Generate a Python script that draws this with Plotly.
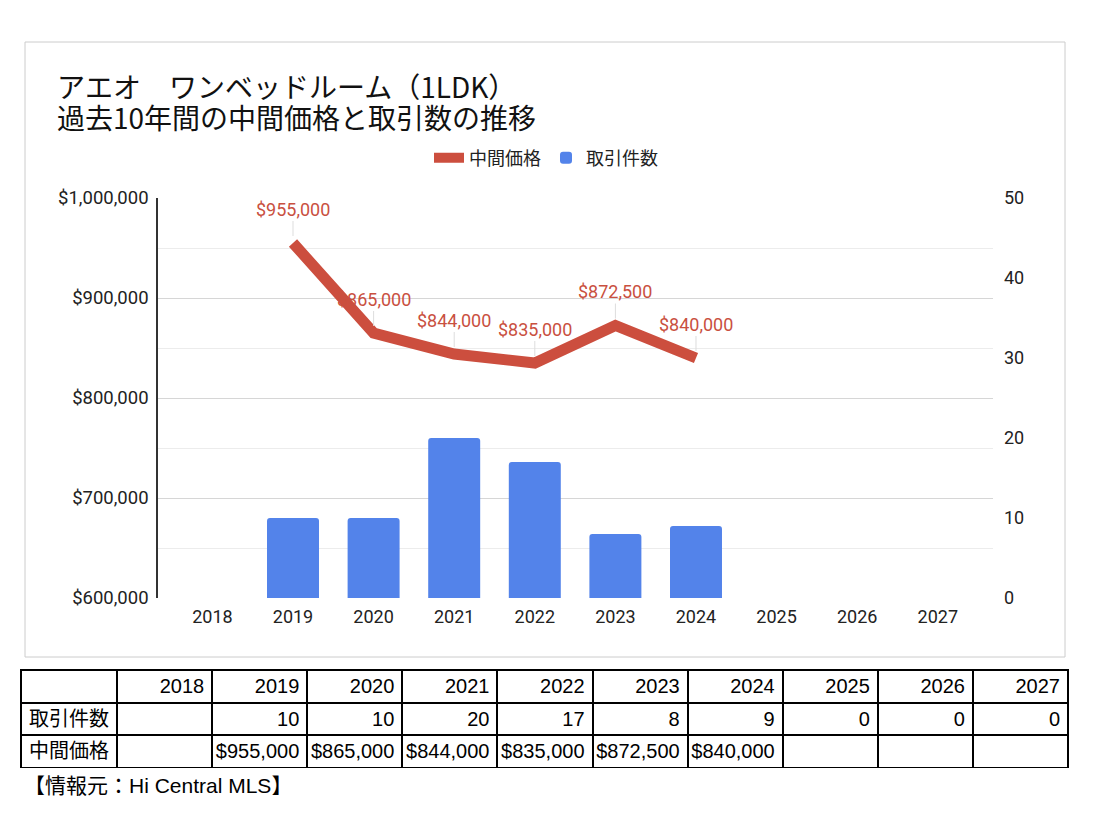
import plotly.graph_objects as go

# ---- data ----
years = ["2018", "2019", "2020", "2021", "2022", "2023", "2024", "2025", "2026", "2027"]
counts = [None, 10, 10, 20, 17, 8, 9, 0, 0, 0]
prices = [None, 955000, 865000, 844000, 835000, 872500, 840000, None, None, None]
price_name = "中間価格"
count_name = "取引件数"
title_line1 = "アエオ　ワンベッドルーム（1LDK）"
title_line2 = "過去10年間の中間価格と取引数の推移"
source_text = "【情報元：Hi Central MLS】"

W, H = 1112, 826
def px(x):
    return x / W
def py(y):
    return 1 - y / H

RED = "#CC4E3E"
RED_TXT = "#C9503F"
BLUE = "#5383EA"
CHART_FONT = "Roboto, 'Noto Sans CJK JP', sans-serif"
TABLE_FONT = "'Liberation Sans', Arial, 'Noto Sans CJK JP', sans-serif"
TITLE_FONT = "'Noto Sans CJK JP', sans-serif"

fig = go.Figure()

fig.add_trace(go.Scatter(
    x=years, y=prices, name=price_name, mode="lines",
    line=dict(color=RED, width=11), yaxis="y3", connectgaps=False,
    hoverinfo="skip",
))
fig.add_trace(go.Bar(
    x=years, y=counts, name=count_name, yaxis="y2",
    marker=dict(color=BLUE, line=dict(width=0), cornerradius=3),
    width=0.645, hoverinfo="skip",
))

# ---- table ----
def fmt_count(c):
    return "" if c is None else str(c)
def fmt_price(p):
    return "" if p is None else f"${p:,}"

cell_cols = [[count_name, price_name]] + [[fmt_count(c), fmt_price(p)] for c, p in zip(counts, prices)]
aligns = ["left"] + ["right"] * len(years)
fig.add_trace(go.Table(
    domain=dict(x=[px(21), px(1068)], y=[py(768), py(670)]),
    columnwidth=[96] + [95] * len(years),
    header=dict(values=[""] + years, align=aligns, height=32.5,
                line=dict(color="black", width=2), fill=dict(color="white"),
                font=dict(family=TABLE_FONT, size=20, color="black")),
    cells=dict(values=cell_cols, align=aligns, height=32.5,
               line=dict(color="black", width=2), fill=dict(color="white"),
               font=dict(family=TABLE_FONT, size=20, color="black")),
))

# data labels (x given as category index)
annotations = []
for i, p in enumerate(prices):
    if p is None:
        continue
    annotations.append(dict(
        x=i, y=p, xref="x", yref="y", text=fmt_price(p),
        showarrow=True, arrowhead=0, arrowwidth=1, arrowcolor="#dddddd",
        ax=0, ay=-34, standoff=7,
        font=dict(family=CHART_FONT, size=18, color=RED_TXT),
    ))

annotations += [
    dict(x=px(55), y=py(86), xref="paper", yref="paper", xanchor="left", yanchor="middle",
         text=title_line1, showarrow=False,
         font=dict(family=TITLE_FONT, size=28, color="#111111")),
    dict(x=px(55), y=py(117), xref="paper", yref="paper", xanchor="left", yanchor="middle",
         text=title_line2, showarrow=False,
         font=dict(family=TITLE_FONT, size=28, color="#111111")),
    dict(x=px(22), y=py(785), xref="paper", yref="paper", xanchor="left", yanchor="middle",
         text=source_text, showarrow=False,
         font=dict(family=TABLE_FONT, size=21, color="black")),
]

fig.update_layout(
    width=W, height=H, autosize=False,
    margin=dict(l=0, r=0, t=0, b=0, pad=0),
    paper_bgcolor="white", plot_bgcolor="white",
    font=dict(family=CHART_FONT, size=18, color="#222222"),
    showlegend=True,
    legend=dict(orientation="h", x=px(546), xanchor="center", y=py(158), yanchor="middle",
                font=dict(family=CHART_FONT, size=18, color="#222222"),
                bgcolor="rgba(0,0,0,0)"),
    xaxis=dict(domain=[px(158), px(993)], type="category", range=[-0.675, 9.685],
               showgrid=False, showline=False, ticks="", ticklabelstandoff=6,
               tickfont=dict(size=18, color="#222222"), automargin=False, fixedrange=True),
    yaxis=dict(domain=[py(598), py(198)], range=[600000, 1000000], dtick=100000,
               tickformat="$,.0f", showgrid=True, gridcolor="#d6d6d6", gridwidth=1,
               minor=dict(dtick=50000, showgrid=True, gridcolor="#ececec", gridwidth=1),
               showline=True, linecolor="#333333", linewidth=1.5, zeroline=False,
               ticks="", ticklabelstandoff=4, tickfont=dict(size=18.5, color="#222222"),
               automargin=False, fixedrange=True),
    yaxis2=dict(overlaying="y", side="right", range=[0, 50], dtick=10,
                showgrid=False, zeroline=False, showline=False, ticks="",
                ticklabelstandoff=10, tickfont=dict(size=18, color="#222222"),
                automargin=False, fixedrange=True),
    yaxis3=dict(overlaying="y", range=[600000, 1000000], visible=False, fixedrange=True),
    annotations=annotations,
    shapes=[dict(type="rect", xref="paper", yref="paper", x0=px(25), x1=px(1065),
                 y0=py(657), y1=py(42), line=dict(color="#cccccc", width=1), layer="below")],
)

fig.write_html("out.html", include_plotlyjs=True, config={"displayModeBar": False},
               post_script="document.body.style.margin='0';")
